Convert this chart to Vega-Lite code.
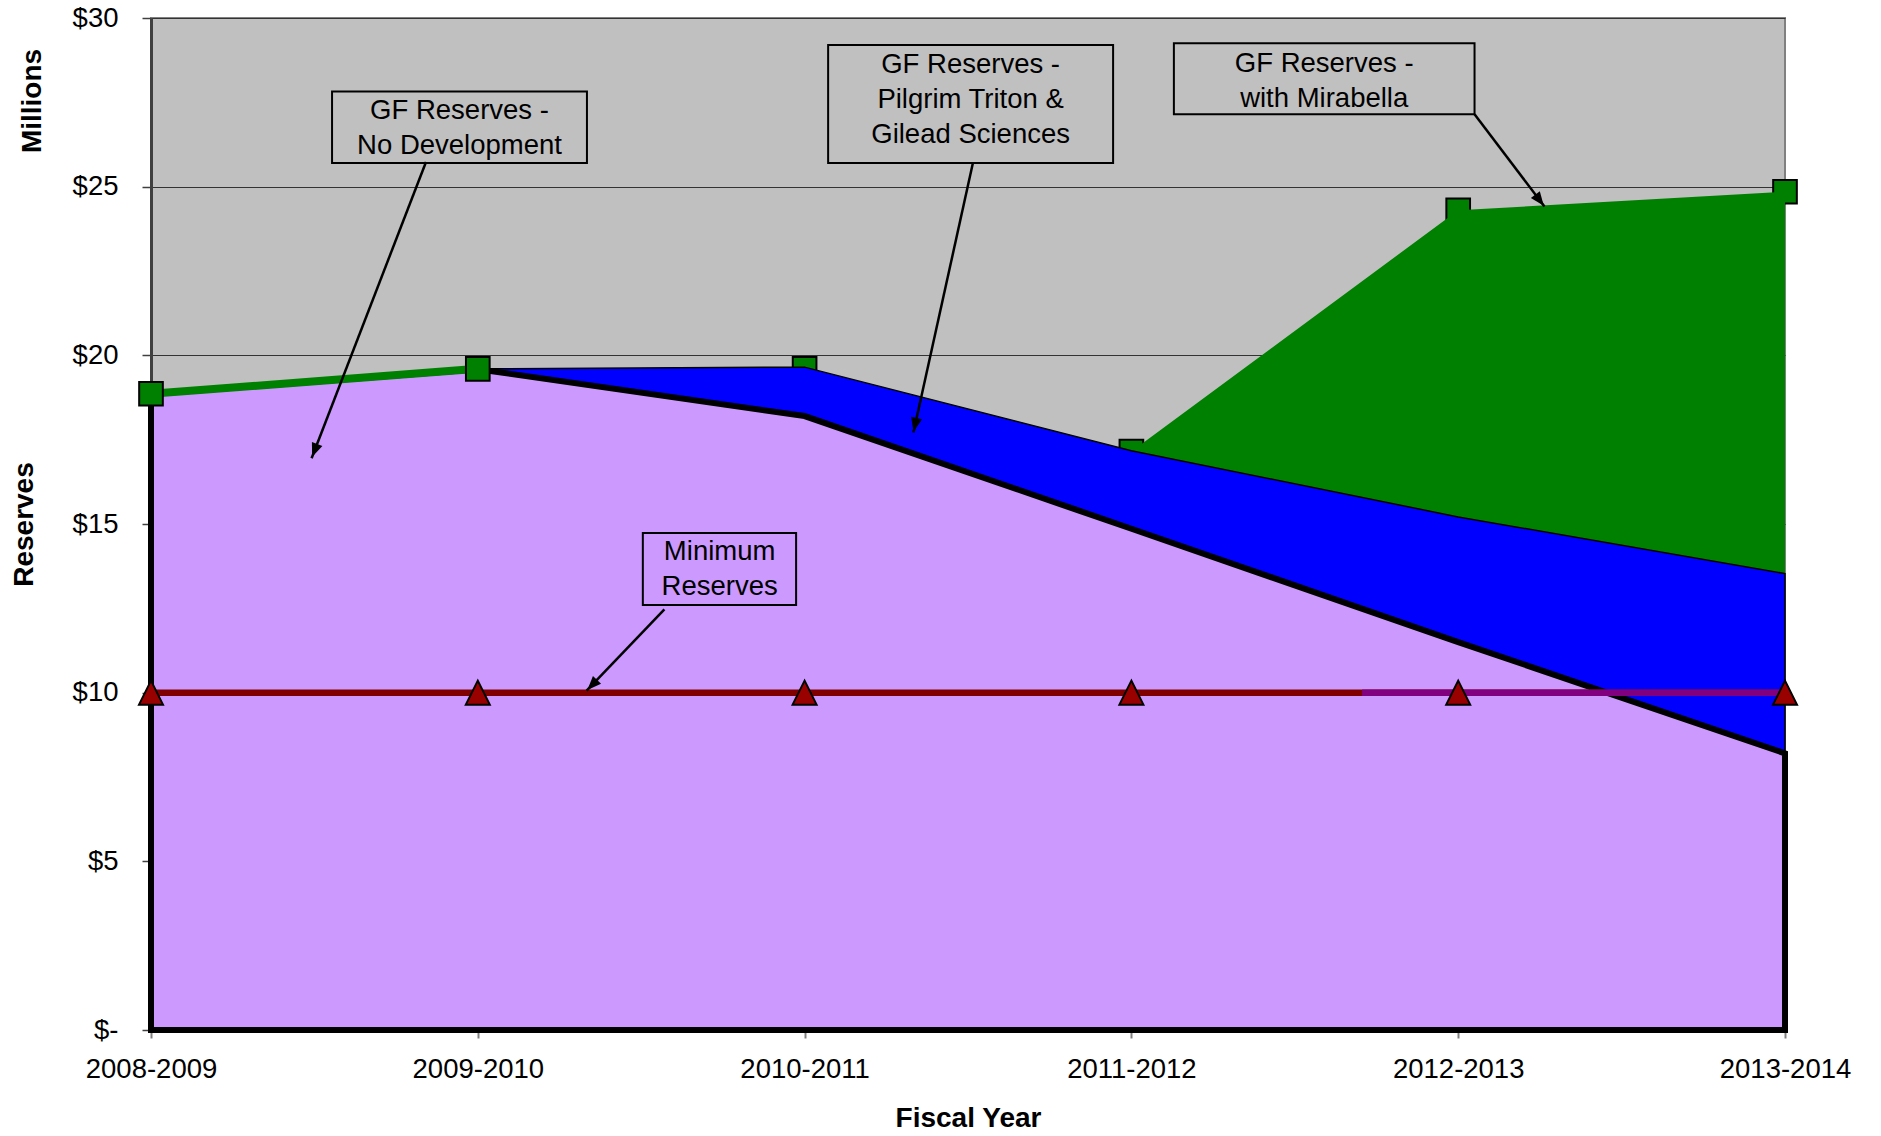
{
  "$schema": "https://vega.github.io/schema/vega-lite/v6.json",
  "width": 1634,
  "height": 1012,
  "autosize": {"type": "none"},
  "padding": {"left": 151, "top": 18, "right": 96, "bottom": 106},
  "background": "white",
  "config": {
    "font": "Liberation Sans",
    "view": {"fill": "#C0C0C0", "stroke": "#808080", "strokeWidth": 2}
  },
  "datasets": {
    "series": [
      {"year": "2008-2009", "idx": 0, "noDev": 18.85, "pilgrim": 18.85, "mirabella": 18.86, "minimum": 10},
      {"year": "2009-2010", "idx": 1, "noDev": 19.59, "pilgrim": 19.6, "mirabella": 19.6, "minimum": 10},
      {"year": "2010-2011", "idx": 2, "noDev": 18.2, "pilgrim": 19.65, "mirabella": 19.6, "minimum": 10},
      {"year": "2011-2012", "idx": 3, "noDev": 14.86, "pilgrim": 17.17, "mirabella": 17.15, "minimum": 10},
      {"year": "2012-2013", "idx": 4, "noDev": 11.5, "pilgrim": 15.21, "mirabella": 24.3, "minimum": 10},
      {"year": "2013-2014", "idx": 5, "noDev": 8.2, "pilgrim": 13.53, "mirabella": 24.85, "minimum": 10}
    ],
    "boxes": [
      {"x": 0.554, "x2": 1.334, "y": 27.82, "y2": 25.70},
      {"x": 2.072, "x2": 2.944, "y": 29.20, "y2": 25.70},
      {"x": 3.130, "x2": 4.050, "y": 29.25, "y2": 27.15},
      {"x": 1.505, "x2": 1.974, "y": 14.73, "y2": 12.60}
    ],
    "labels": [
      {"text": "GF Reserves -\nNo Development", "x": 0.944, "y": 27.25},
      {"text": "GF Reserves -\nPilgrim Triton &\nGilead Sciences", "x": 2.508, "y": 28.6},
      {"text": "GF Reserves -\nwith Mirabella", "x": 3.59, "y": 28.65},
      {"text": "Minimum\nReserves", "x": 1.74, "y": 14.17}
    ],
    "arrows": [
      {"x": 0.8415, "y": 25.73, "x2": 0.4914, "y2": 16.95, "hx": 0.5007, "hy": 17.18, "angle": 201.1},
      {"x": 2.515, "y": 25.70, "x2": 2.333, "y2": 17.71, "hx": 2.338, "hy": 17.94, "angle": 192.5},
      {"x": 4.050, "y": 27.15, "x2": 4.264, "y2": 24.41, "hx": 4.249, "hy": 24.60, "angle": 142.9},
      {"x": 1.571, "y": 12.47, "x2": 1.333, "y2": 10.06, "hx": 1.350, "hy": 10.23, "angle": 223.6}
    ],
    "segment": [
      {"x": 3.706, "x2": 5, "y": 10}
    ],
    "side": [
      {"text": "Millions", "x": -0.3626, "y": 27.54}
    ]
  },
  "layer": [
    {
      "data": {"name": "series"},
      "transform": [{"filter": "datum.idx >= 2"}],
      "mark": {"type": "point", "shape": "square", "filled": true, "fill": "#008000", "stroke": "black", "strokeWidth": 2, "size": 560, "opacity": 1},
      "encoding": {
        "x": {
          "field": "idx", "type": "quantitative",
          "scale": {"domain": [0, 5], "nice": false, "zero": false},
          "axis": {
            "title": "Fiscal Year",
            "values": [0, 1, 2, 3, 4, 5],
            "labelExpr": "['2008-2009','2009-2010','2010-2011','2011-2012','2012-2013','2013-2014'][datum.value]",
            "grid": false, "labelFlush": false, "labelOverlap": false,
            "labelFontSize": 27.5, "labelColor": "black", "labelPadding": 17,
            "tickSize": 8, "tickColor": "#808080", "tickWidth": 2,
            "domainColor": "#808080", "domainWidth": 2,
            "titleFontSize": 28, "titleFontWeight": "bold", "titleColor": "black", "titlePadding": 22
          }
        },
        "y": {
          "field": "mirabella", "type": "quantitative",
          "scale": {"domain": [0, 30], "nice": false},
          "axis": {
            "title": "Reserves",
            "values": [0, 5, 10, 15, 20, 25, 30],
            "labelExpr": "datum.value == 0 ? '$-\u00a0\u00a0\u00a0\u00a0' : '$' + datum.value",
            "grid": true, "gridColor": "#333333", "gridWidth": 1,
            "labelFlush": false, "labelOverlap": false,
            "labelFontSize": 27.5, "labelColor": "black", "labelPadding": 24,
            "tickSize": 9, "tickColor": "#404040", "tickWidth": 1.5,
            "domainColor": "#404040", "domainWidth": 3,
            "titleFontSize": 28, "titleFontWeight": "bold", "titleColor": "black", "titlePadding": 34
          }
        }
      }
    },
    {
      "data": {"name": "series"},
      "mark": {"type": "area", "color": "#008000", "opacity": 1},
      "encoding": {
        "x": {"field": "idx", "type": "quantitative"},
        "y": {"field": "mirabella", "type": "quantitative"}
      }
    },
    {
      "data": {"name": "series"},
      "mark": {"type": "area", "color": "#0000FF", "opacity": 1, "stroke": "black", "strokeWidth": 1.5},
      "encoding": {
        "x": {"field": "idx", "type": "quantitative"},
        "y": {"field": "pilgrim", "type": "quantitative"}
      }
    },
    {
      "data": {"name": "series"},
      "mark": {"type": "area", "color": "#CC99FF", "opacity": 1, "stroke": "black", "strokeWidth": 6},
      "encoding": {
        "x": {"field": "idx", "type": "quantitative"},
        "y": {"field": "noDev", "type": "quantitative"}
      }
    },
    {
      "data": {"name": "series"},
      "transform": [{"filter": "datum.idx <= 1"}],
      "mark": {"type": "line", "color": "#008000", "strokeWidth": 8},
      "encoding": {
        "x": {"field": "idx", "type": "quantitative"},
        "y": {"field": "mirabella", "type": "quantitative"}
      }
    },
    {
      "data": {"name": "series"},
      "transform": [{"filter": "datum.idx <= 1"}],
      "mark": {"type": "point", "shape": "square", "filled": true, "fill": "#008000", "stroke": "black", "strokeWidth": 2, "size": 560, "opacity": 1},
      "encoding": {
        "x": {"field": "idx", "type": "quantitative"},
        "y": {"field": "mirabella", "type": "quantitative"}
      }
    },
    {
      "data": {"name": "series"},
      "mark": {"type": "line", "color": "#800000", "strokeWidth": 6.5},
      "encoding": {
        "x": {"field": "idx", "type": "quantitative"},
        "y": {"field": "minimum", "type": "quantitative"}
      }
    },
    {
      "data": {"name": "segment"},
      "mark": {"type": "rule", "color": "#800080", "strokeWidth": 6.5},
      "encoding": {
        "x": {"field": "x", "type": "quantitative"},
        "x2": {"field": "x2"},
        "y": {"field": "y", "type": "quantitative"}
      }
    },
    {
      "data": {"name": "series"},
      "mark": {"type": "point", "shape": "M0,-1L1,1L-1,1Z", "filled": true, "fill": "#990000", "stroke": "black", "strokeWidth": 2, "size": 576, "opacity": 1},
      "encoding": {
        "x": {"field": "idx", "type": "quantitative"},
        "y": {"field": "minimum", "type": "quantitative"}
      }
    },
    {
      "data": {"name": "boxes"},
      "mark": {"type": "rect", "fillOpacity": 0, "stroke": "black", "strokeWidth": 2},
      "encoding": {
        "x": {"field": "x", "type": "quantitative"},
        "x2": {"field": "x2"},
        "y": {"field": "y", "type": "quantitative"},
        "y2": {"field": "y2"}
      }
    },
    {
      "data": {"name": "labels"},
      "mark": {"type": "text", "fontSize": 27.5, "lineBreak": "\n", "lineHeight": 35, "align": "center", "baseline": "middle", "color": "black"},
      "encoding": {
        "x": {"field": "x", "type": "quantitative"},
        "y": {"field": "y", "type": "quantitative"},
        "text": {"field": "text", "type": "nominal"}
      }
    },
    {
      "data": {"name": "arrows"},
      "mark": {"type": "rule", "color": "black", "strokeWidth": 2.5},
      "encoding": {
        "x": {"field": "x", "type": "quantitative"},
        "x2": {"field": "x2"},
        "y": {"field": "y", "type": "quantitative"},
        "y2": {"field": "y2"}
      }
    },
    {
      "data": {"name": "arrows"},
      "mark": {"type": "point", "shape": "M0,-1L0.8,1L-0.8,1Z", "filled": true, "color": "black", "size": 196, "opacity": 1},
      "encoding": {
        "x": {"field": "hx", "type": "quantitative"},
        "y": {"field": "hy", "type": "quantitative"},
        "angle": {"field": "angle", "type": "quantitative", "scale": null}
      }
    },
    {
      "data": {"name": "side"},
      "mark": {"type": "text", "fontSize": 28, "fontWeight": "bold", "angle": 270, "align": "center", "baseline": "middle", "color": "black"},
      "encoding": {
        "x": {"field": "x", "type": "quantitative"},
        "y": {"field": "y", "type": "quantitative"},
        "text": {"field": "text", "type": "nominal"}
      }
    }
  ]
}
